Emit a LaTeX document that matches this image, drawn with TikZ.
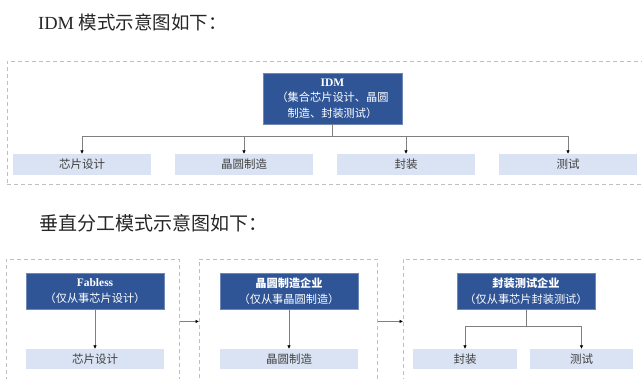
\documentclass[tikz,border=0pt]{standalone}
\usepackage{fontspec}
\setmainfont{Liberation Serif}
\newfontfamily\cjk{Noto Sans CJK SC}
\usetikzlibrary{arrows.meta}
\definecolor{darkblue}{HTML}{2F5597}
\definecolor{lightblue}{HTML}{DAE3F3}
\definecolor{dashgray}{HTML}{BFBFBF}
\definecolor{linegray}{HTML}{7F7F7F}
\definecolor{textgray}{HTML}{404040}
\tikzset{
  frame/.style={draw=dashgray, line width=0.9pt, dash pattern=on 4pt off 3pt, inner sep=0pt, anchor=north west},
  mainbox/.style={fill=darkblue, draw=darkblue!70!white, line width=0.5pt, text=white, inner sep=0pt, align=center, font=\cjk\fontsize{11.2}{15.5}\selectfont},
  subbox/.style={fill=lightblue, inner sep=0pt, text=textgray, font=\cjk\fontsize{11.5}{13}\selectfont},
  conn/.style={draw=linegray, line width=0.6pt},
  arr/.style={conn, -{Latex[length=3.5pt,width=3.5pt,color=black]}},
  title/.style={anchor=west, inner sep=0pt, text=black!85, font=\fontsize{18.5}{21}\selectfont}
}
\begin{document}
\begin{tikzpicture}[x=1pt,y=-1pt]
\useasboundingbox (0,0) rectangle (642,379);
\clip (0,0) rectangle (642,379);
% titles
\node[title] (t1) at (38,22) {IDM {\cjk 模式示意图如下：}};
\node[title, font=\fontsize{19}{21}\selectfont] (t2) at (39,223) {\cjk 垂直分工模式示意图如下：};
% IDM frame
\node[frame, minimum width=660pt, minimum height=123pt] (f1) at (7,61) {};
\node[mainbox, minimum width=139pt, minimum height=51pt] (idm) at (332.5,98.5)
  {{\rmfamily\bfseries\fontsize{11.5}{15.5}\selectfont IDM}\\（集合芯片设计、晶圆\\制造、封装测试）};
\node[subbox, minimum width=138pt, minimum height=21pt] (b1) at (82,164.5) {芯片设计};
\node[subbox, minimum width=138pt, minimum height=21pt] (b2) at (244,164.5) {晶圆制造};
\node[subbox, minimum width=138pt, minimum height=21pt] (b3) at (406,164.5) {封装};
\node[subbox, minimum width=138pt, minimum height=21pt] (b4) at (568,164.5) {测试};
\coordinate (j1) at (332.5,136);
\draw[conn] (idm.south) -- (j1);
\draw[arr] (j1) -| (b1.north);
\draw[arr] (j1) -| (b2.north);
\draw[arr] (j1) -| (b3.north);
\draw[arr] (j1) -| (b4.north);
% vertical division frames
\node[frame, minimum width=173pt, minimum height=124pt] (fa) at (6,259) {};
\node[frame, minimum width=178pt, minimum height=124pt] (fb) at (199,259) {};
\node[frame, minimum width=260pt, minimum height=124pt] (fc) at (403,259) {};
\draw[arr] (fa.east) -- (fb.west);
\draw[arr] (fb.east) -- (fc.west);
% Fabless
\node[mainbox, minimum width=138pt, minimum height=36pt] (fab) at (95,291)
  {{\rmfamily\bfseries\fontsize{11.5}{15.5}\selectfont Fabless}\\（仅从事芯片设计）};
\node[subbox, minimum width=138pt, minimum height=20pt] (fabc) at (95,359) {芯片设计};
\draw[arr] (fab.south) -- (fabc.north);
% Wafer
\node[mainbox, minimum width=138pt, minimum height=36pt] (waf) at (289,291)
  {{\bfseries 晶圆制造企业}\\（仅从事晶圆制造）};
\node[subbox, minimum width=138pt, minimum height=20pt] (wafc) at (289,359) {晶圆制造};
\draw[arr] (waf.south) -- (wafc.north);
% Packaging & testing
\node[mainbox, minimum width=138pt, minimum height=36pt] (pkg) at (526,291)
  {{\bfseries 封装测试企业}\\（仅从事芯片封装测试）};
\node[subbox, minimum width=104pt, minimum height=20pt] (pk1) at (465,359) {封装};
\node[subbox, minimum width=103pt, minimum height=20pt] (pk2) at (581.5,359) {测试};
\coordinate (j2) at (526,326);
\draw[conn] (pkg.south) -- (j2);
\draw[arr] (j2) -| (pk1.north);
\draw[arr] (j2) -| (pk2.north);
\end{tikzpicture}
\end{document}
